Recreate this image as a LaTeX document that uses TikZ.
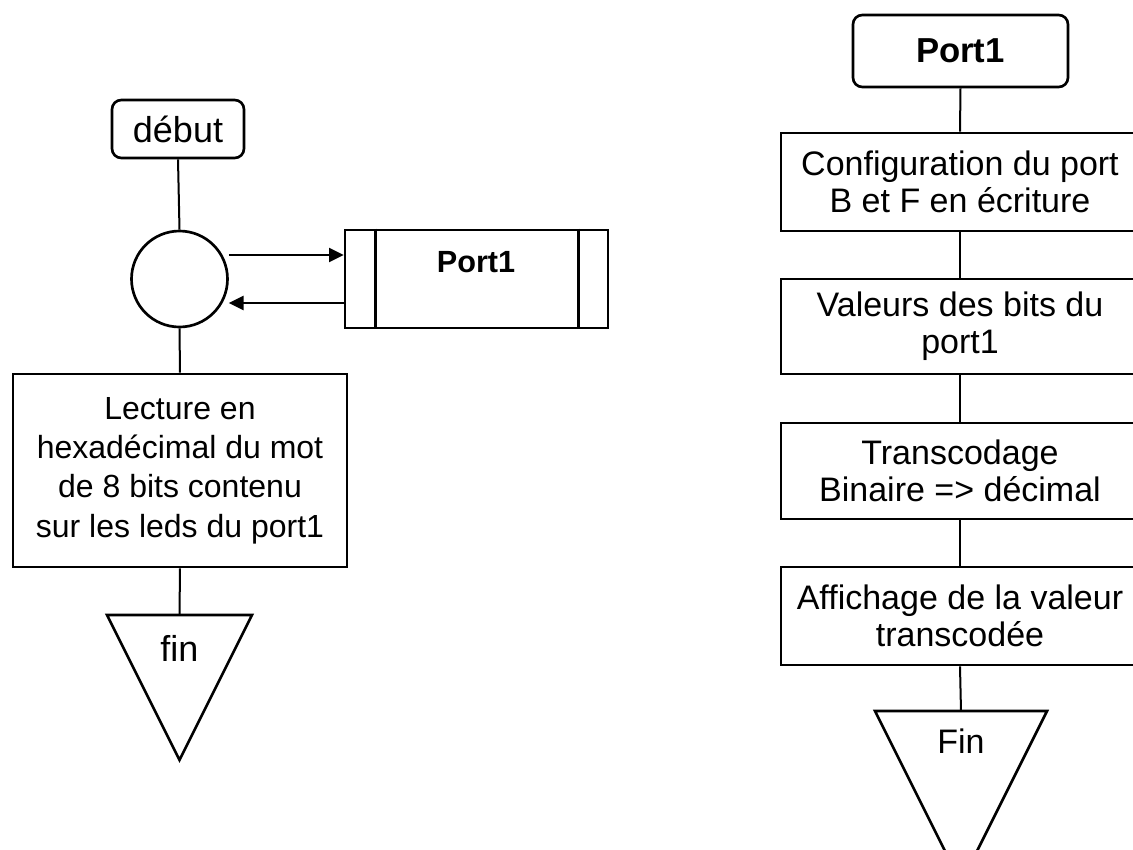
\documentclass[tikz,border=0pt]{standalone}
\usepackage{fontspec}
\setmainfont{Liberation Sans}
\usetikzlibrary{arrows.meta}

\tikzset{every picture/.style={line width=0.75pt}}
\tikzset{
  boite/.style={draw, line width=2pt, rectangle, inner sep=0pt, align=center},
  terminal/.style={boite, rounded corners=7pt},
  lien/.style={line width=1.5pt},
  fleche/.style={line width=1.5pt, -{Triangle[length=11pt,width=10.5pt]}},
  texteG/.style={font=\fontsize{24}{29.5}\selectfont, align=center},
  texteD/.style={font=\fontsize{25.5}{28}\selectfont, align=center},
  texteB/.style={font=\fontsize{27}{30}\selectfont, align=center}
}

\begin{document}
\begin{tikzpicture}[x=0.75pt,y=0.75pt,yscale=-1,xscale=1]
		\useasboundingbox (0,0) rectangle (1133,850);
		\clip (0,0) rectangle (1133,850);

		%Shape: Rounded Rect [id:debut]
		\node[terminal, texteB, minimum width=99pt, minimum height=43.5pt] (debut) at (178,129) {début};
		%Shape: Circle [id:connecteur]
		\node[draw, line width=2pt, circle, minimum size=72pt, inner sep=0pt] (conn) at (179.5,279) {};
		%Shape: Rectangle [id:sousprog]
		\node[boite, minimum width=197.25pt, minimum height=73.5pt] (port) at (476.5,279) {};
		\draw[line width=2pt] ([xshift=24pt]port.north west) -- ([xshift=24pt]port.south west);
		\draw[line width=2pt] ([xshift=-23pt]port.north east) -- ([xshift=-23pt]port.south east);
		\node[font=\fontsize{23}{27}\selectfont\bfseries] (porttitre) at (476,262) {Port1};
		%Shape: Rectangle [id:lecture]
		\node[boite, texteG, minimum width=250.5pt, minimum height=144.75pt] (lecture) at (180,470.5) {Lecture en\\hexadécimal du mot\\de 8 bits contenu\\sur les leds du port1};
		%Shape: Triangle [id:fin]
		\coordinate (finhaut) at (179.5,615);
		\draw[line width=2pt, line join=miter] (107,615) -- (252,615) -- (179.5,760) -- cycle;
		\node[texteB] (fin) at (179.5,648) {fin};

		%Straight Lines [id:liensG]
		\draw[lien] (debut.south) -- (conn.north);
		\draw[lien] (conn.south) -- (lecture.north);
		\draw[lien] (lecture.south) -- (finhaut);
		\draw[fleche] ([yshift=-18pt]conn.east) -- ([yshift=-18pt]port.west);
		\draw[fleche] ([yshift=18pt]port.west) -- ([yshift=18pt]conn.east);

		%Shape: Rounded Rect [id:port1]
		\node[terminal, font=\fontsize{26}{30}\selectfont\bfseries, minimum width=161.25pt, minimum height=54pt] (portD) at (960.5,51) {Port1};
		%Shape: Rectangle [id:etapes]
		\node[boite, texteD, minimum width=268.5pt, minimum height=73.5pt] (config) at (960,182) {Configuration du port\\B et F en écriture};
		\node[boite, texteD, minimum width=268.5pt, minimum height=71.25pt] (valeurs) at (960,326.5) {Valeurs des bits du\\port1};
		\node[boite, texteD, minimum width=268.5pt, minimum height=72pt] (transco) at (960,471) {Transcodage\\Binaire => décimal};
		\node[boite, texteD, minimum width=268.5pt, minimum height=73.5pt] (affich) at (960,616) {Affichage de la valeur\\transcodée};
		%Shape: Triangle [id:Fin]
		\coordinate (Finhaut) at (961,711);
		\draw[line width=2pt, line join=miter] (875,711) -- (1047,711) -- (961,883) -- cycle;
		\node[texteD] (Fin) at (961,741) {Fin};

		%Straight Lines [id:liensD]
		\draw[lien] (portD.south) -- (config.north);
		\draw[lien] (config.south) -- (valeurs.north);
		\draw[lien] (valeurs.south) -- (transco.north);
		\draw[lien] (transco.south) -- (affich.north);
		\draw[lien] (affich.south) -- (Finhaut);

		\end{tikzpicture}
\end{document}
